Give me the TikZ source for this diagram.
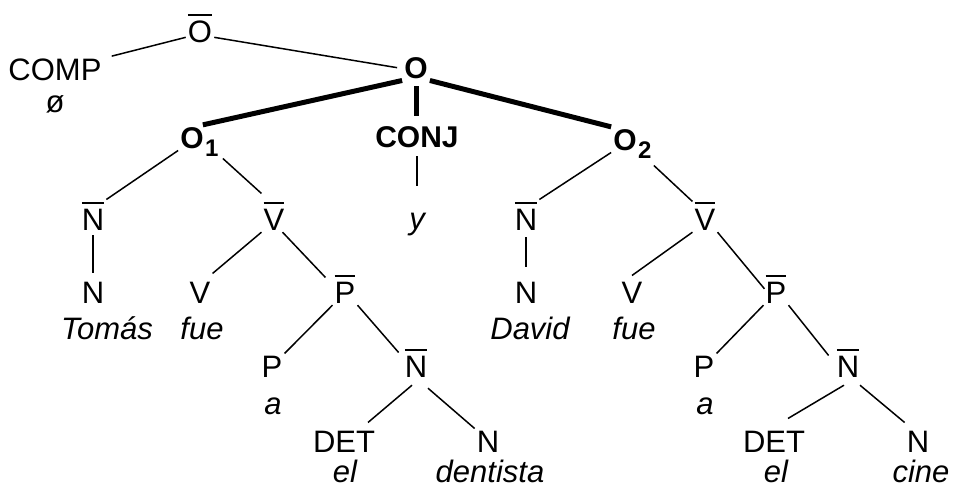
\documentclass[tikz,border=0pt]{standalone}
\usepackage{fontspec}
\setmainfont{Liberation Sans}
\newcommand\barred[1]{\vbox{\hrule height 2pt\kern 5pt\hbox{#1}}}
\newcommand\subsc[1]{\rlap{\smash{\kern1.5pt\raisebox{-8pt}{\fontsize{24}{24}\selectfont\bfseries #1}}}}
\begin{document}
\begin{tikzpicture}[x=1pt,y=-1pt,
  lab/.style={anchor=base,inner sep=2pt,font=\fontsize{31}{37}\selectfont},
  word/.style={anchor=base,inner sep=2pt,font=\fontsize{31}{37}\selectfont\itshape},
  bold/.style={anchor=base,inner sep=2pt,font=\fontsize{30}{36}\selectfont\bfseries},
  edge/.style={line width=1.5pt},
  heavy/.style={line width=5pt}]
\useasboundingbox (0,0) rectangle (954,488);
% top
\node[lab] (Obar) at (200,42.5) {\barred{O}};
\node[lab] (COMP) at (55,80) {COMP};
\node[lab] (zero) at (55,112) {ø};
\node[bold] (O) at (416,78) {O};
\node[bold] (O1) at (192,148) {O\subsc{1}};
\node[bold] (CONJ) at (417,147) {CONJ};
\node[bold] (O2) at (625,150) {O\subsc{2}};
% left clause
\node[lab] (Nb1) at (93,230) {\barred{N}};
\node[lab] (Vb1) at (274,230) {\barred{V}};
\node[word] (y) at (417,229) {y};
\node[lab] (N1) at (93,303) {N};
\node[lab] (V1) at (200,303) {V};
\node[lab] (Pb1) at (345,303) {\barred{P}};
\node[word] (w1) at (107,339) {Tomás};
\node[word] (w2) at (202,339) {fue};
\node[lab] (P1) at (272,377) {P};
\node[word] (a1) at (273,414) {a};
\node[lab] (Nb3) at (416,377) {\barred{N}};
\node[lab] (D1) at (344,452) {DET};
\node[lab] (N3) at (488,452) {N};
\node[word] (el1) at (345,482) {el};
\node[word] (den) at (490,482) {dentista};
% right clause
\node[lab] (Nb2) at (526,230) {\barred{N}};
\node[lab] (Vb2) at (705,230) {\barred{V}};
\node[lab] (N2) at (526,303) {N};
\node[lab] (V2) at (632,303) {V};
\node[lab] (Pb2) at (776,303) {\barred{P}};
\node[word] (w3) at (530,339) {David};
\node[word] (w4) at (634,339) {fue};
\node[lab] (P2) at (704,377) {P};
\node[word] (a2) at (705,414) {a};
\node[lab] (Nb4) at (848,377) {\barred{N}};
\node[lab] (D2) at (774,452) {DET};
\node[lab] (N4) at (918,452) {N};
\node[word] (el2) at (776,482) {el};
\node[word] (cine) at (921,482) {cine};
% connectors
\draw[edge] ([yshift=-9pt]Obar.west) -- ([xshift=8pt]COMP.north east);
\draw[edge] ([yshift=-9pt]Obar.east) -- ([xshift=-5pt]O.west);
\draw[heavy] (O.south west) -- ([xshift=-3pt]O1.north east);
\draw[heavy,shorten <=6pt,shorten >=8pt] (O.south) -- (O.south |- CONJ.north);
\draw[heavy] (O.south east) -- (O2.north west);
\draw[edge] (O1.south west) -- (Nb1.north east);
\draw[edge] ([xshift=17pt,yshift=-8pt]O1.south east) -- ([yshift=6pt]Vb1.north west);
\draw[edge,shorten <=7pt,shorten >=24pt] (CONJ.south) -- (y.north);
\draw[edge,shorten <=3pt,shorten >=6pt] (Nb1.south) -- (N1.north);
\draw[edge] (Vb1.south west) -- ([yshift=6pt]V1.north east);
\draw[edge] ([xshift=-4pt]Vb1.south east) -- ([xshift=-7pt,yshift=-5pt]Pb1.north west);
\draw[edge] (Pb1.south west) -- (P1.north east);
\draw[edge] (Pb1.south east) -- ([xshift=-4pt,yshift=-6pt]Nb3.north west);
\draw[edge] ([xshift=-4pt,yshift=-6pt]Nb3.south) -- ([xshift=24pt,yshift=6pt]D1.north);
\draw[edge] ([xshift=12pt,yshift=-9pt]Nb3.south) -- (N3.north west);
\draw[edge] (O2.south west) -- (Nb2.north east);
\draw[edge] ([xshift=15pt,yshift=-13pt]O2.south east) -- ([yshift=-2pt]Vb2.north west);
\draw[edge,shorten <=5pt,shorten >=12pt] (Nb2.south) -- (N2.north);
\draw[edge] (Vb2.south west) -- ([yshift=4pt]V2.north);
\draw[edge] (Vb2.south east) -- ([xshift=1pt]Pb2.west);
\draw[edge] (Pb2.south west) -- (P2.north east);
\draw[edge] (Pb2.south east) -- ([xshift=-6pt,yshift=-9pt]Nb4.north west);
\draw[edge] ([xshift=-4pt,yshift=-6pt]Nb4.south) -- ([xshift=14pt,yshift=10pt]D2.north);
\draw[edge] ([xshift=12pt,yshift=-6pt]Nb4.south) -- ([yshift=6pt]N4.north west);
\end{tikzpicture}
\end{document}
